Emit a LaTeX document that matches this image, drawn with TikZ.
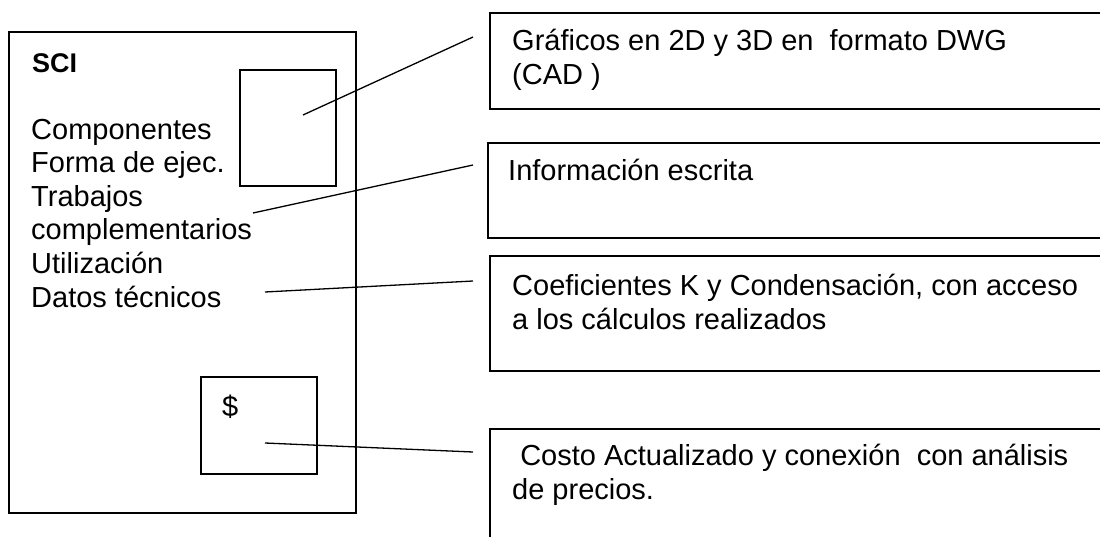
\documentclass[tikz,border=0pt]{standalone}
\usepackage{fontspec}
\setmainfont{Liberation Sans}
\usetikzlibrary{calc}

\tikzset{
  boxframe/.style={draw=black, line width=1.5pt, inner sep=0pt, outer sep=0pt, anchor=north west},
  note/.style={anchor=base west, inner sep=0pt, align=left, font=\fontsize{29}{33.6}\selectfont},
  leader/.style={draw=black, line width=1.3pt}
}

\begin{document}
\begin{tikzpicture}[x=1pt, y=-1pt]
  \useasboundingbox (0,0) rectangle (1100,536);
  \clip (0,0) rectangle (1100,536);

  % SCI sheet with its two inner frames
  \node[boxframe, minimum width=347pt, minimum height=481pt] (sheet) at (9,32) {};
  \node[boxframe, minimum width=96pt, minimum height=116pt] (drawing) at (240,70) {};
  \node[boxframe, minimum width=116pt, minimum height=97pt] (price) at (201,377) {};

  % base anchor sits on the last line
  \node[note, font=\fontsize{27}{30}\selectfont\bfseries] (title) at (32,72) {SCI};
  \node[note] (items) at (31,307) {Componentes\\Forma de ejec.\\Trabajos\\complementarios\\Utilización\\Datos técnicos};
  \node[note] (dollar) at (222,416) {\$};

  % description boxes (cut by the right edge)
  \node[boxframe, minimum width=640pt, minimum height=96pt] (cad) at (490,13) {};
  \node[boxframe, minimum width=640pt, minimum height=95pt] (written) at (488,143) {};
  \node[boxframe, minimum width=640pt, minimum height=115pt] (coef) at (490,256) {};
  \node[boxframe, minimum width=640pt, minimum height=140pt] (cost) at (490,429) {};

  \node[note] (cadtext) at (512,84) {Gráficos en 2D y 3D en\ \ formato DWG\\(CAD )};
  \node[note] (writtentext) at (508,180) {Información escrita};
  \node[note] (coeftext) at (512,329) {Coeficientes K y Condensación, con acceso\\a los cálculos realizados};
  \node[note] (costtext) at (512,499) {\ Costo Actualizado y conexión\ \ con análisis\\de precios.};

  % leaders
  \coordinate (cadin) at (303,115);
  \coordinate (writtenin) at (253,213);
  \coordinate (coefin) at (265,292);
  \coordinate (costin) at (265,443);

  \draw[leader] (cadin) -- ($(cad.north west)+(-17,24)$);
  \draw[leader] (writtenin) -- ($(written.north west)+(-15,22)$);
  \draw[leader] (coefin) -- ($(coef.north west)+(-17,25)$);
  \draw[leader] (costin) -- ($(cost.north west)+(-17,23)$);
\end{tikzpicture}
\end{document}
